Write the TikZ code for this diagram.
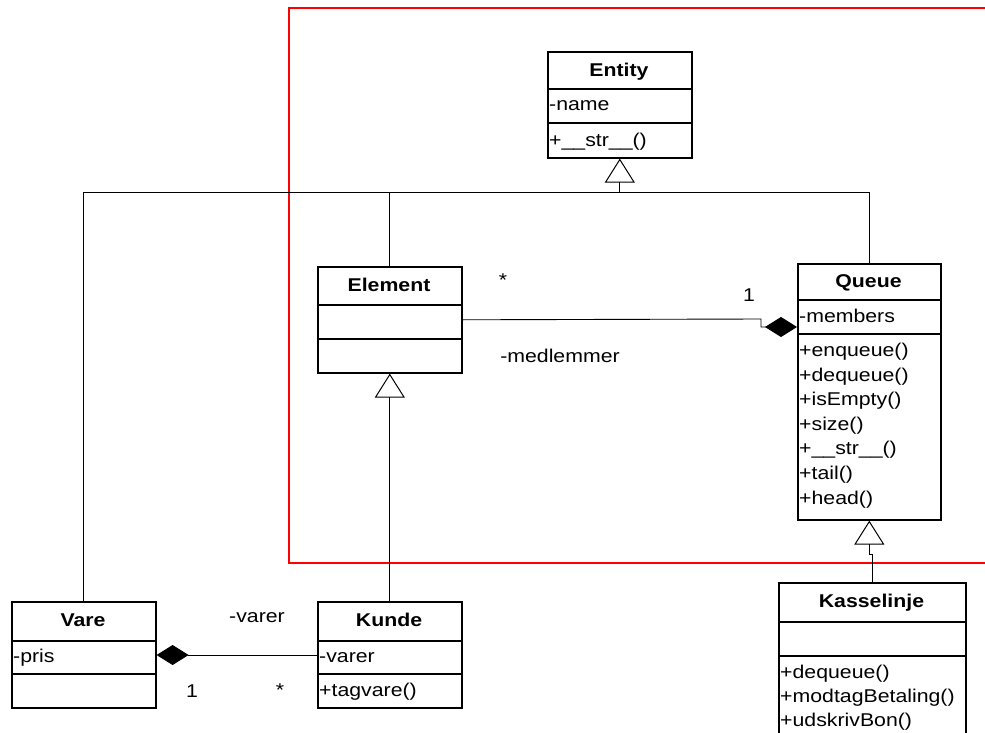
\documentclass[tikz,border=0pt]{standalone}
\usepackage{fontspec}
\setmainfont{Liberation Sans}[FakeStretch=1.15]
\usetikzlibrary{arrows.meta}
\begin{document}
\begin{tikzpicture}[x=1pt,y=-1pt,
  font=\fontsize{18.5}{22}\selectfont,
  classbox/.style={draw, line width=1.6pt, inner sep=0pt, anchor=north west},
  sep/.style={line width=1.6pt},
  title/.style={font=\fontsize{18.5}{22}\selectfont\bfseries, inner sep=0pt, text height=13pt, text depth=4pt, yshift=-2pt},
  member/.style={anchor=west, inner sep=0pt, text height=13pt, text depth=4pt, yshift=-2pt},
  lbl/.style={inner sep=0pt},
  conn/.style={line width=0.9pt},
  gen/.style={conn, -{Triangle[open, length=24pt, width=30pt, line width=1pt]}},
  comp/.style={conn, -{Diamond[length=32pt, width=20pt]}},
  frame/.style={draw=red, line width=1.5pt}]
\clip (0,0) rectangle (985,733);
\fill[white] (0,0) rectangle (985,733);

% package frame
\draw[frame] (289,8) rectangle (1000,563);

% Entity
\node[classbox, minimum width=144pt, minimum height=106pt] (entity) at (547,51) {};
\draw[sep] (547,89) -- (691,89);
\draw[sep] (547,123) -- (691,123);
\node[title] (entityT) at (619,70) {Entity};
\node[member] (entityA) at (549,104) {-name};
\node[member] (entityO) at (549,140) {+\_\_str\_\_()};

% Element
\node[classbox, minimum width=144pt, minimum height=106pt] (element) at (317,266) {};
\draw[sep] (317,305) -- (461,305);
\draw[sep] (317,339) -- (461,339);
\node[title] (elementT) at (389,285) {Element};

% Queue
\node[classbox, minimum width=143pt, minimum height=256pt] (queue) at (797,263) {};
\draw[sep] (797,300) -- (940,300);
\draw[sep] (797,334) -- (940,334);
\node[title] (queueT) at (868.5,281) {Queue};
\node[member] (queueA) at (799,316) {-members};
\node[member] (q1) at (799,350) {+enqueue()};
\node[member] (q2) at (799,374.6) {+dequeue()};
\node[member] (q3) at (799,399.2) {+isEmpty()};
\node[member] (q4) at (799,423.8) {+size()};
\node[member] (q5) at (799,448.4) {+\_\_str\_\_()};
\node[member] (q6) at (799,473) {+tail()};
\node[member] (q7) at (799,497.6) {+head()};

% Kasselinje
\node[classbox, minimum width=187pt, minimum height=170pt] (kasse) at (778,582) {};
\draw[sep] (778,622) -- (965,622);
\draw[sep] (778,656) -- (965,656);
\node[title] (kasseT) at (871.5,601) {Kasselinje};
\node[member] (k1) at (780,672) {+dequeue()};
\node[member] (k2) at (780,696) {+modtagBetaling()};
\node[member] (k3) at (780,720) {+udskrivBon()};

% Vare
\node[classbox, minimum width=144pt, minimum height=106pt] (vare) at (11,601) {};
\draw[sep] (11,641) -- (155,641);
\draw[sep] (11,674) -- (155,674);
\node[title] (vareT) at (83,620) {Vare};
\node[member] (vareA) at (13,656) {-pris};

% Kunde
\node[classbox, minimum width=144pt, minimum height=106pt] (kunde) at (317,601) {};
\draw[sep] (317,641) -- (461,641);
\draw[sep] (317,674) -- (461,674);
\node[title] (kundeT) at (389,620) {Kunde};
\node[member] (kundeA) at (319,656) {-varer};
\node[member] (kundeO) at (319,690) {+tagvare()};

% generalisation to Entity
\coordinate (bus) at (0,192);
\draw[conn] (vare.north) |- (queue.north |- bus) -- (queue.north);
\draw[conn] (element.north) -- (element.north |- bus);
\draw[gen] (entity.south |- bus) -- (entity.south);

% generalisation Kunde -> Element, Kasselinje -> Queue
\draw[gen] (kunde.north) -- (element.south);
\draw[gen] (kasse.north) |- ([yshift=-34pt]queue.south) -- (queue.south);

% composition Element -> Queue
\coordinate (qjoin) at (761,319);
\draw[comp] (element.east) -- (qjoin) |- (queue.west |- 0,327);
\node[lbl] (m1) at (503,280) {*};
\node[lbl] (m2) at (749,295) {1};
\node[lbl] (m3) at (560,356) {-medlemmer};

% composition Kunde -> Vare
\draw[comp] (kunde.west |- 0,655) -- (vare.east |- 0,655);
\node[lbl] (v1) at (257,618) {-varer};
\node[lbl] (v2) at (192,691) {1};
\node[lbl] (v3) at (280,690) {*};
\end{tikzpicture}
\end{document}
